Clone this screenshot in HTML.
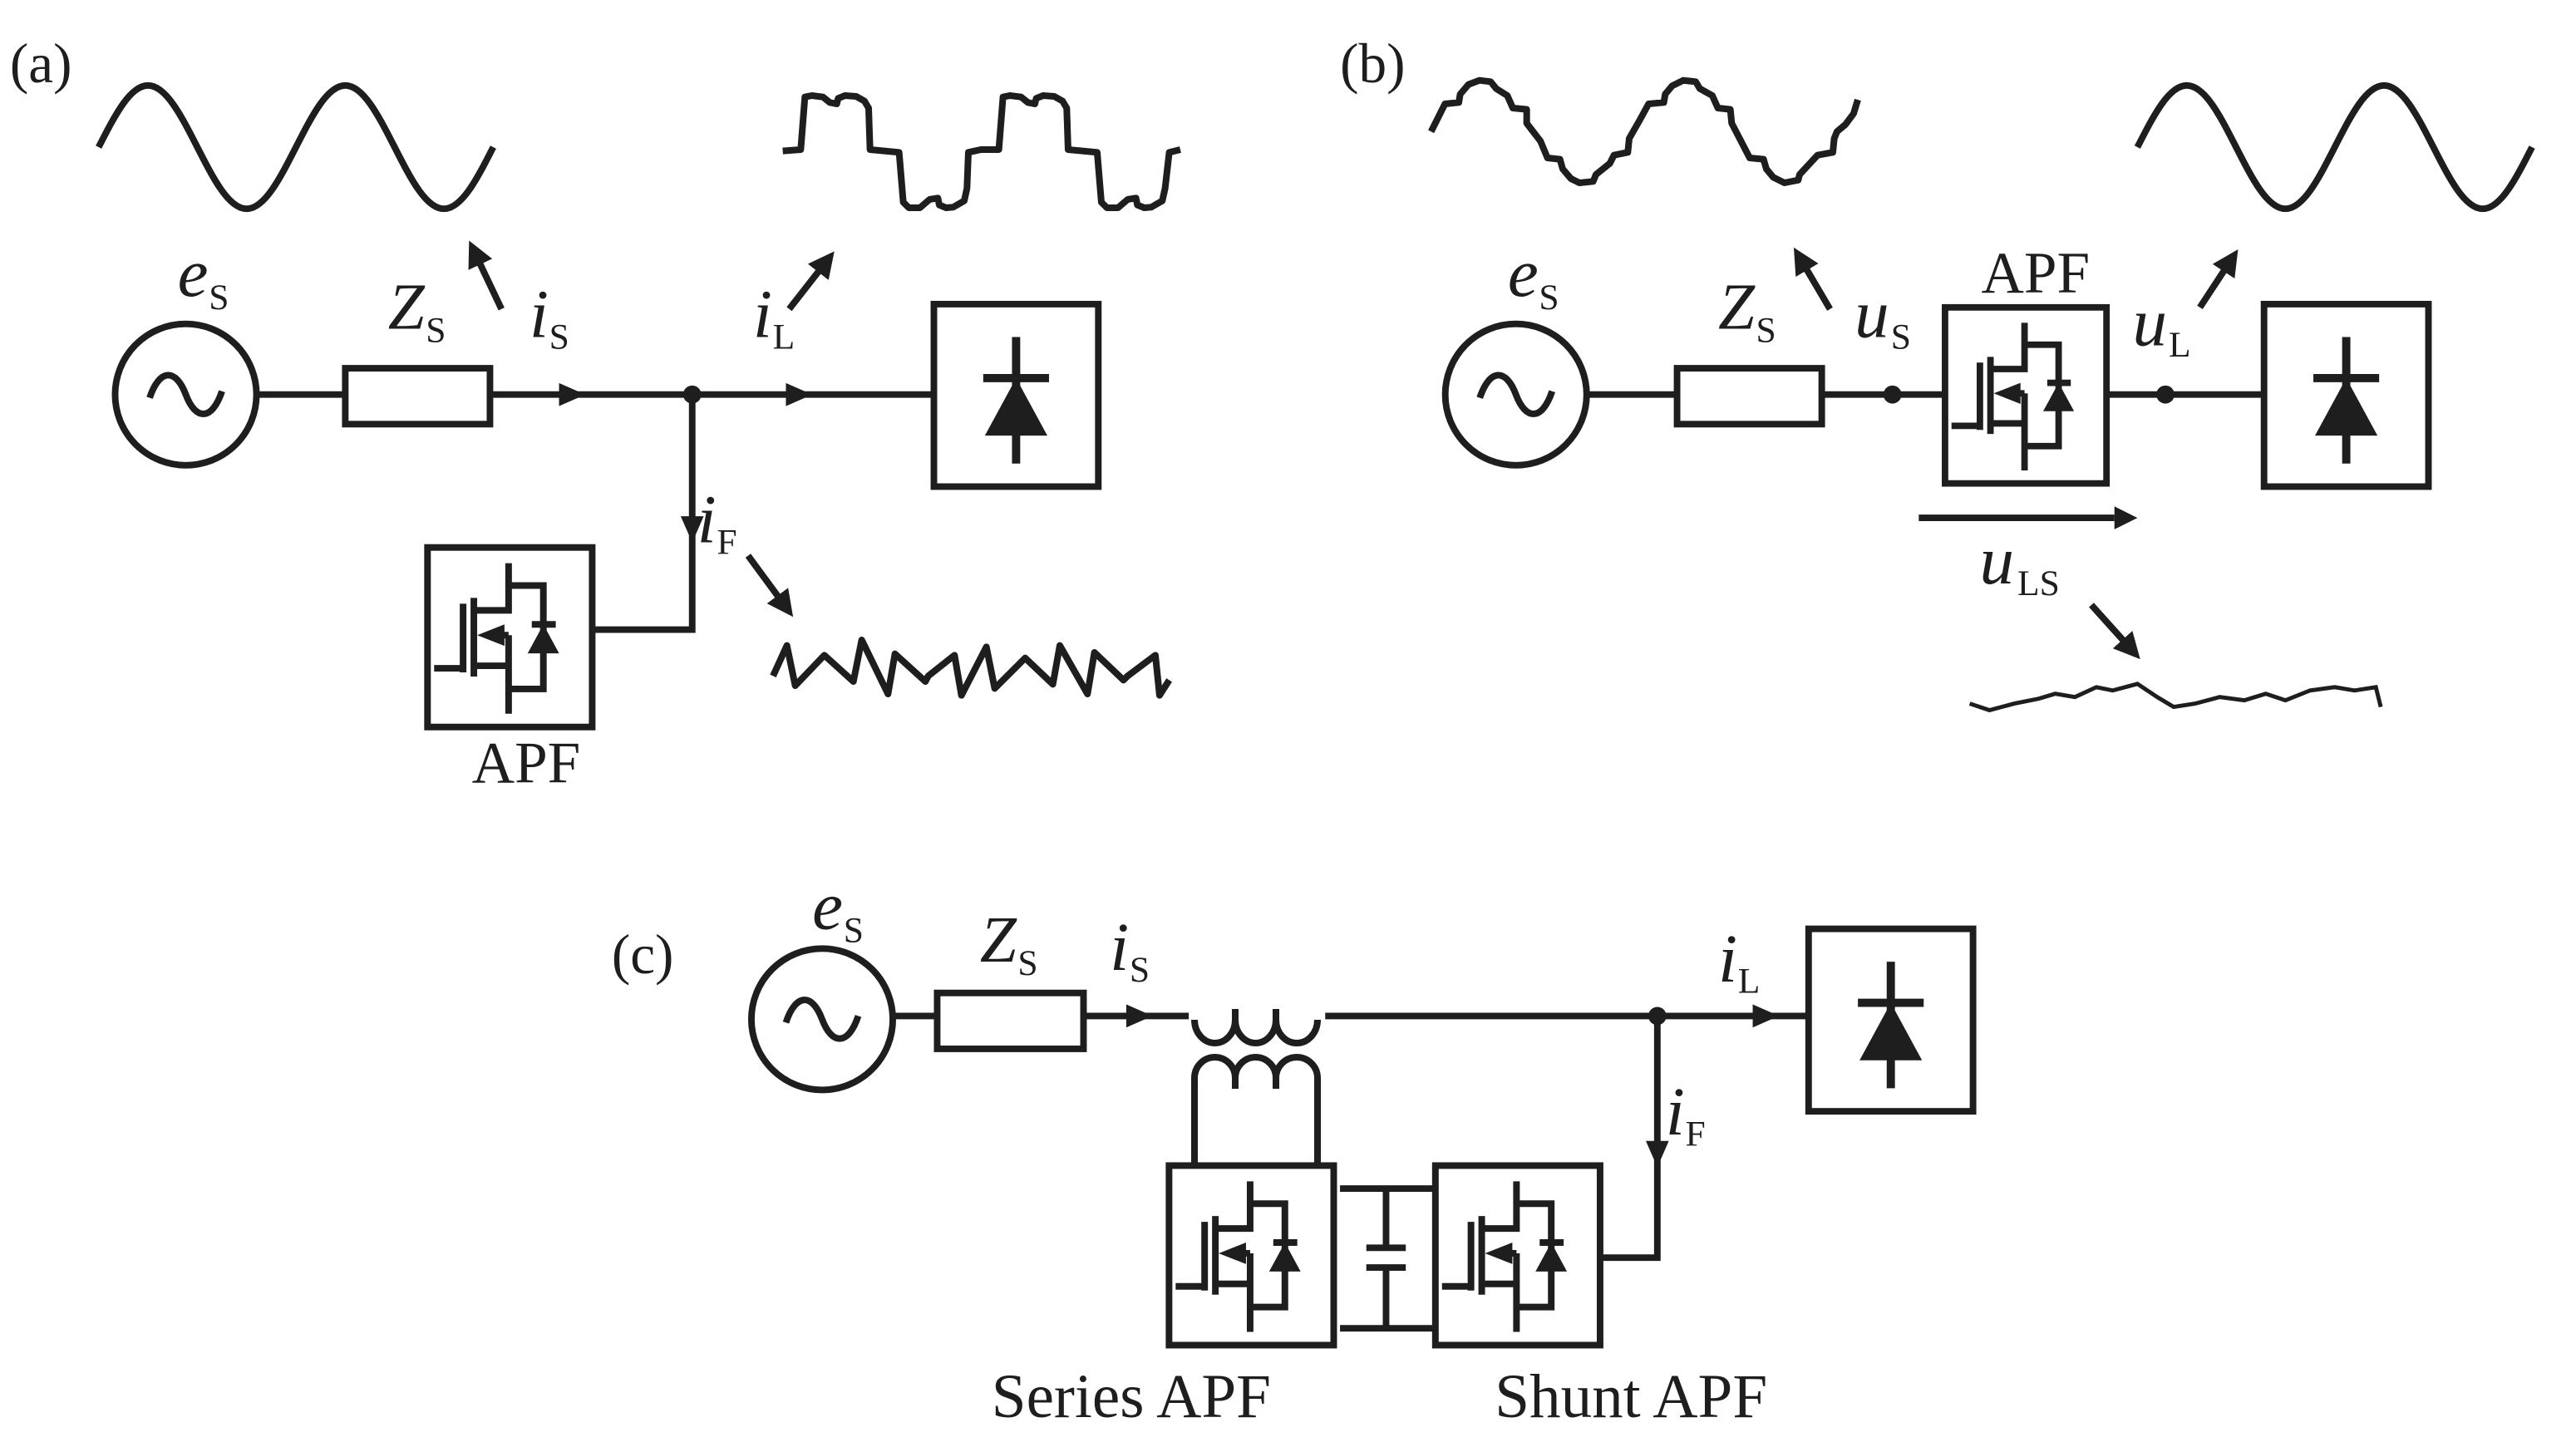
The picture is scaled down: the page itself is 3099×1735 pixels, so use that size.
<!DOCTYPE html>
<html><head><meta charset="utf-8"><style>
html,body{margin:0;padding:0;background:#fff;}
svg{display:block}
text{font-family:"Liberation Serif",serif;fill:#1e1e1e}
.it{font-style:italic}
</style></head><body>
<svg width="3099" height="1735" viewBox="0 0 3099 1735" xmlns="http://www.w3.org/2000/svg">
<defs>
<marker id="ah" markerWidth="4" markerHeight="4" refX="3" refY="2" orient="auto" markerUnits="strokeWidth"><path d="M0,0 L4,2 L0,4 z" fill="#1e1e1e"/></marker>
<g id="apf">
<rect x="4" y="4" width="199" height="217" fill="none" stroke="#1e1e1e" stroke-width="8"/>
<g fill="none" stroke="#1e1e1e" stroke-width="8">
<path d="M12,150 H47 M47,72 V155 M60,65 V160 M60,80 H102 V23 M102,50 H144 V175 H102 M60,147 H102 M102,110 V205 M102,110 H90 M130,97 H159"/>
</g>
<polygon points="64,110 97,97 97,123" fill="#1e1e1e"/>
<polygon points="144,97 125,132 163,132" fill="#1e1e1e"/>
</g>
<g id="src">
<circle cx="0" cy="0" r="43" fill="none" stroke="#1e1e1e" stroke-width="4"/>
<path d="M-22,2 C-16,-16 -6,-16 0,0 C6,16 16,16 22,-2" fill="none" stroke="#1e1e1e" stroke-width="4"/>
</g>
<g id="load">
<rect x="0" y="0" width="100" height="111" fill="none" stroke="#1e1e1e" stroke-width="4"/>
<path d="M50,20 V97 M30,45 H70" stroke="#1e1e1e" stroke-width="5" fill="none"/>
<polygon points="50,45 31,80 69,80" fill="#1e1e1e"/>
</g>
<path id="sine" d="M60,89.5 C69.8,70.3 79.1,52 90,52 C100.9,52 110.2,70.3 120,89.5 C129.8,108.7 139.1,127 150,127 C160.9,127 170.2,108.7 180,89.5 C189.8,70.3 199.1,52 210,52 C220.9,52 230.2,70.3 240,89.5 C249.8,108.7 259.1,127 270,127 C280.9,127 290.2,108.7 300,89.5" fill="none" stroke="#1e1e1e" stroke-width="4"/>
</defs>

<g transform="scale(1.978)">
<g fill="none" stroke="#1e1e1e" stroke-width="4">
<path d="M157,240 H210 M298,240 H568 M421,240 V383 H362"/>
<rect x="210" y="224" width="88" height="34"/>
<path d="M305,188 L287,150" marker-end="url(#ah)"/>
<path d="M480,188 L505,156" marker-end="url(#ah)"/>
<path d="M455,338 L480,372" marker-end="url(#ah)"/>
<path d="M965,240 H1020 M1108,240 H1182 M1283,240 H1377 M1167,315 H1286"/>
<rect x="1020" y="224" width="88" height="34"/>
<path d="M1113,188 L1093,154" marker-end="url(#ah)"/>
<path d="M1338,187 L1359,155" marker-end="url(#ah)"/>
<path d="M1272,368 L1299,398" marker-end="url(#ah)"/>
<polyline stroke-width="2.5" points="1198,428 1210,432 1225,428 1240,425 1250,422 1262,424 1275,418 1285,420 1300,416 1312,424 1322,430 1335,428 1350,424 1365,426 1378,422 1390,426 1405,420 1420,418 1432,420 1445,418 1448,430"/>
<path d="M543,618 H570 M659,618 H723 M806,618 H1100 M1008,618 V765 H975 M815,723 H872 M815,808 H872 M843,723 V759 M843,771 V808 M831,759 H855 M831,771 H855"/>
<rect x="570" y="604" width="89" height="34"/>
</g>
<g fill="#1e1e1e">
<polygon points="340,233 356,240 340,247"/>
<polygon points="478,233 494,240 478,247"/>
<polygon points="414,314 421,330 428,314"/>
<polygon points="1286,308 1300,315 1286,322"/>
<polygon points="685,611 701,618 685,625"/>
<polygon points="1066,611 1082,618 1066,625"/>
<polygon points="1001,694 1008,710 1015,694"/>
<circle cx="421" cy="240" r="5.5"/>
<circle cx="1151" cy="240" r="5.5"/>
<circle cx="1317" cy="240" r="5.5"/>
<circle cx="1008" cy="618" r="5.5"/>
</g>
<use href="#sine"/>
<use href="#sine" transform="translate(1240,0)"/>
<use href="#src" transform="translate(113,240)"/>
<use href="#src" transform="translate(922,240)"/>
<use href="#src" transform="translate(500,620)"/>
<use href="#load" transform="translate(568,185)"/>
<use href="#load" transform="translate(1377,185)"/>
<use href="#load" transform="translate(1100,565)"/>
<use href="#apf" transform="translate(258,331) scale(0.5033)"/>
<use href="#apf" transform="translate(1181,185) scale(0.4935)"/>
<use href="#apf" transform="translate(709,707) scale(0.5033)"/>
<use href="#apf" transform="translate(871,707) scale(0.5033)"/>

<text x="6" y="50" font-size="34">(a)</text>
<text x="108" y="180" font-size="42" class="it">e</text><text x="127" y="188" font-size="22">S</text>
<text x="236" y="200" font-size="40" class="it">Z</text><text x="259" y="208" font-size="22">S</text>
<text x="322" y="205" font-size="42" class="it">i</text><text x="334" y="212" font-size="22">S</text>
<text x="458" y="205" font-size="42" class="it">i</text><text x="470" y="212" font-size="22">L</text>
<text x="424" y="330" font-size="42" class="it">i</text><text x="436" y="337" font-size="22">F</text>
<text x="320" y="476" font-size="36" text-anchor="middle">APF</text>

<text x="815" y="50" font-size="34">(b)</text>
<text x="917" y="180" font-size="42" class="it">e</text><text x="936" y="188" font-size="22">S</text>
<text x="1045" y="200" font-size="40" class="it">Z</text><text x="1068" y="208" font-size="22">S</text>
<text x="1128" y="205" font-size="42" class="it">u</text><text x="1150" y="212" font-size="22">S</text>
<text x="1238" y="178" font-size="36" text-anchor="middle">APF</text>
<text x="1297" y="210" font-size="42" class="it">u</text><text x="1319" y="217" font-size="22">L</text>
<text x="1204" y="355" font-size="42" class="it">u</text><text x="1227" y="362" font-size="22">LS</text>

<text x="372" y="592" font-size="34">(c)</text>
<text x="494" y="565" font-size="42" class="it">e</text><text x="513" y="573" font-size="22">S</text>
<text x="596" y="585" font-size="40" class="it">Z</text><text x="619" y="593" font-size="22">S</text>
<text x="675" y="590" font-size="42" class="it">i</text><text x="687" y="597" font-size="22">S</text>
<text x="1045" y="597" font-size="42" class="it">i</text><text x="1057" y="604" font-size="22">L</text>
<text x="1013" y="690" font-size="42" class="it">i</text><text x="1025" y="697" font-size="22">F</text>
<text x="688" y="862" font-size="38" text-anchor="middle">Series APF</text>
<text x="992" y="862" font-size="38" text-anchor="middle">Shunt APF</text>
</g>

<g fill="none" stroke="#1e1e1e" stroke-width="8" stroke-linejoin="round">
<polyline transform="translate(930,90) scale(0.3333)" stroke-width="24" points="35,275 100,270 115,80 140,75 180,80 205,100 230,105 235,85 260,75 300,78 330,95 345,120 350,270 455,280 470,460 490,480 530,480 565,450 595,445 600,470 625,480 650,478 690,455 700,410 705,280 750,270 815,270 830,80 855,75 895,80 920,100 945,105 950,85 975,75 1015,78 1045,95 1060,120 1065,270 1170,280 1185,460 1205,480 1245,480 1280,450 1310,445 1315,470 1340,480 1365,478 1405,455 1415,410 1430,280 1470,270"/>
<polyline transform="translate(930,760) scale(0.3333)" stroke-width="24" points="0,160 50,50 80,195 185,85 290,180 320,30 415,225 440,80 550,180 560,160 655,85 680,230 770,55 800,205 910,95 1010,190 1035,50 1135,225 1160,75 1265,175 1280,160 1380,85 1395,230 1430,175"/>
<polyline transform="translate(1720,70) scale(0.3333)" stroke-width="24" points="5,265 55,165 105,160 110,130 140,95 180,80 220,85 240,110 280,135 300,180 350,185 350,235 400,300 425,360 470,365 480,400 510,435 540,450 590,445 600,420 650,380 665,350 715,340 720,290 760,220 790,165 845,160 850,130 875,100 915,80 960,85 975,110 1020,135 1040,180 1085,185 1090,235 1155,360 1205,365 1215,400 1240,430 1280,450 1330,440 1335,420 1400,350 1455,340 1460,290 1470,265 1500,240 1530,200 1545,150"/>
<path d="M1437,1227 A24.5,28 0 0 0 1486,1227 A24.5,28 0 0 0 1535,1227 A25,28 0 0 0 1585,1227"/>
<path d="M1437,1403 V1297 A24.5,25 0 0 1 1486,1297 A24.5,25 0 0 1 1535,1297 A25,25 0 0 1 1585,1297 V1403"/>
<path d="M1486,1297 V1310 M1535,1297 V1310 M1486,1227 V1214 M1535,1227 V1214"/>
</g>
</svg>
</body></html>
